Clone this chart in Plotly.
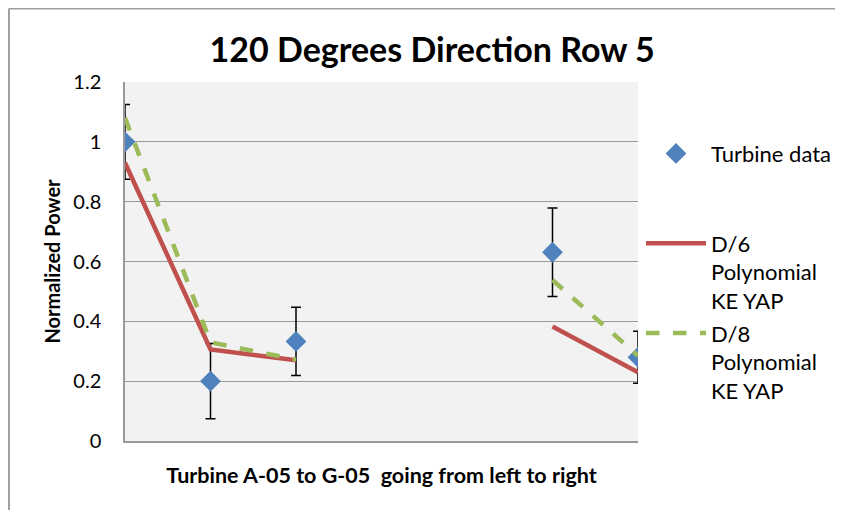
import plotly.graph_objects as go

# Data
turbines = [1, 2, 3, 4, 5, 6, 7]  # A-05 .. G-05
turbine_data = [1.0, 0.2, 0.333, None, None, 0.631, 0.28]
turbine_err = [0.125, 0.126, 0.114, None, None, 0.148, 0.087]
d6_poly = [0.93, 0.306, 0.27, None, None, 0.383, 0.23]
d8_poly = [1.08, 0.33, 0.272, None, None, 0.538, 0.285]
y_ticks = [0, 0.2, 0.4, 0.6, 0.8, 1.0, 1.2]
y_tick_labels = ["0", "0.2", "0.4", "0.6", "0.8", "1", "1.2"]

FONT = "Lato, 'Open Sans', sans-serif"
W, H = 835, 502
L, R, T, B = 117, 205, 74, 69

fig = go.Figure()
fig.add_trace(go.Scatter(
    x=turbines, y=turbine_data, mode="markers",
    name="Turbine data<br> <br> ",
    marker=dict(symbol="diamond", size=16, color="#4f81bd"),
    error_y=dict(type="data", array=turbine_err, visible=True,
                 color="black", thickness=1.5, width=5),
    legendgroup="a", legendrank=1,
))
fig.add_trace(go.Scatter(
    x=turbines, y=d6_poly, mode="lines",
    name="D/6<br>Polynomial<br>KE YAP",
    line=dict(color="#c0504d", width=4.5),
    legendgroup="b", legendrank=2,
))
fig.add_trace(go.Scatter(
    x=turbines, y=d8_poly, mode="lines",
    name="D/8<br>Polynomial<br>KE YAP",
    line=dict(color="#9bbb59", width=4.5, dash="dash"),
    legendgroup="c", legendrank=3,
))

pw, ph = W - L - R, H - T - B

fig.update_layout(
    width=W, height=H,
    margin=dict(l=L, r=R, t=T, b=B, autoexpand=False),
    paper_bgcolor="white",
    plot_bgcolor="#f2f2f2",
    font=dict(family=FONT, size=18, color="black"),
    title=dict(text="<b>120 Degrees Direction Row 5</b>", x=0.508, xanchor="center",
               y=1 - 42 / H, yanchor="middle", font=dict(size=34)),
    showlegend=True,
    legend=dict(xref="container", yref="paper",
                x=633 / W, xanchor="left", y=0.87 - 4 / ph, yanchor="top",
                valign="top", tracegroupgap=1, itemwidth=60, font=dict(size=22),
                maxheight=340,
                bgcolor="rgba(0,0,0,0)"),
    xaxis=dict(range=[1, 7], showticklabels=False, showgrid=False,
               zeroline=False, showline=True, linecolor="#9a9a9a", linewidth=1.5,
               ticks="",
               title=dict(text="<b>Turbine A-05 to G-05  going from left to right</b>",
                          font=dict(size=21.5), standoff=26)),
    yaxis=dict(range=[0, 1.2], tickvals=y_ticks, ticktext=y_tick_labels,
               showgrid=True, gridcolor="#9a9a9a", gridwidth=1.2,
               zeroline=False, showline=True, linecolor="#9a9a9a", linewidth=1.5,
               ticks="", ticklabelstandoff=18, tickfont=dict(size=20),
               title=dict(text="<b>Normalized Power</b>", font=dict(size=20), standoff=7)),
)

# outer chart frame (left and top edges)
fx = (1 - L) / pw
fy = 1 + (T - 0.5) / ph
fig.add_shape(type="line", xref="paper", yref="paper",
              x0=fx, x1=fx, y0=fy, y1=-(B + 5) / ph,
              line=dict(color="#a0a0a0", width=2))
fig.add_shape(type="line", xref="paper", yref="paper",
              x0=fx, x1=(W + 5 - L) / pw, y0=fy, y1=fy,
              line=dict(color="#a0a0a0", width=2))

fig.write_html("out.html")
